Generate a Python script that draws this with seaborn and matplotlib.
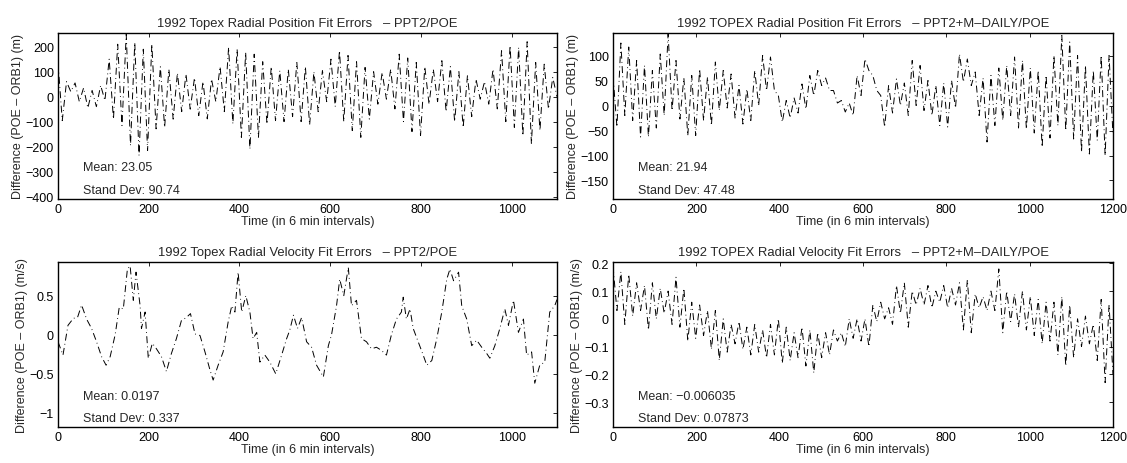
import numpy as np
import pandas as pd
import seaborn as sns
import matplotlib

matplotlib.use("Agg")
import matplotlib.pyplot as plt
from matplotlib.ticker import FuncFormatter

# ---- values (orbit-by-orbit highs and lows) ----
# radial position, PPT2/POE (m)
pos_ppt2_hi = [137, 60, 55, 35, 25, 45, 150, 210, 250, 217,
               190, 210, 120, 110, 95, 90, 75, 60, 70, 120,
               197, 190, 177, 170, 140, 120, 104, 110, 137, 120,
               100, 104, 150, 184, 165, 140, 117, 100, 97, 110,
               170, 155, 137, 120, 110, 144, 120, 100, 84, 70,
               60, 110, 184, 204, 197, 220, 137, 130, 77]
pos_ppt2_lo = [-96, 20, -20, -45, -40, -15, -90, -116, -196, -236,
               -216, -129, -123, -90, -60, -50, -76, -89, -20, -60,
               -109, -163, -210, -163, -110, -96, -100, -80, -100, -113,
               -60, -20, -40, -100, -136, -163, -90, -30, -10, -49,
               -100, -140, -156, -30, -20, -60, -100, -123, -80, -10,
               -30, -49, -100, -123, -156, -189, -136, -49, 0]

# radial position, PPT2+M-DAILY/POE (m)
pos_daily_hi = [60, 125, 117, 90, 80, 70, 103, 143, 90, 55,
                60, 73, 57, 87, 70, 63, 40, 33, 70, 100,
                97, 20, 10, 15, 43, 60, 70, 55, 30, 10,
                5, 60, 93, 60, 20, 40, 53, 45, 90, 80,
                50, 40, 45, 50, 103, 93, 67, 55, 60, 75,
                80, 97, 90, 75, 70, 60, 100, 140, 127, 100,
                80, 70, 100, 100]
pos_daily_lo = [-43, -20, -30, -63, -63, -45, -20, -10, -27, -60,
                -60, -30, -40, -10, -5, -25, -37, -30, 0, 30,
                30, -33, -25, -15, -7, 20, 40, 30, 5, -13,
                -20, 20, 70, 30, -43, -15, 0, -20, 0, -10,
                -20, -40, -43, -5, 47, 40, -20, -73, -40, -30,
                -20, -45, -47, -55, -83, -65, -40, -50, -67, -93,
                -97, -70, -100, -60]

# radial velocity, PPT2/POE (m/s)
vel_ppt2_t = [0, 11, 22, 34, 43, 52, 63, 74, 85, 96,
              106, 115, 126, 135, 144, 153, 159, 166, 172, 181,
              184, 192, 199, 208, 217, 228, 239, 250, 261, 272,
              283, 292, 302, 313, 324, 335, 342, 353, 364, 375,
              383, 390, 397, 405, 414, 423, 430, 438, 445, 456,
              467, 480, 493, 504, 511, 519, 528, 537, 548, 559,
              570, 585, 596, 603, 614, 621, 630, 640, 647, 658,
              669, 680, 691, 702, 713, 724, 735, 746, 757, 761,
              768, 776, 783, 794, 805, 813, 824, 835, 846, 857,
              864, 872, 883, 890, 901, 912, 923, 934, 945, 952,
              963, 974, 985, 993, 1004, 1015, 1026, 1033, 1044, 1051,
              1062, 1073, 1084, 1095, 1100]
vel_ppt2 = [-0.09, -0.26, 0.12, 0.21, 0.22, 0.38, 0.2, 0.08, -0.09, -0.28,
            -0.39, -0.28, 0.0, 0.35, 0.33, 0.84, 0.88, 0.44, 0.8, 0.37,
            0.08, 0.29, -0.3, -0.11, -0.18, -0.28, -0.47, -0.24, -0.05, 0.18,
            0.22, 0.27, 0.01, -0.01, -0.22, -0.45, -0.58, -0.39, -0.22, 0.16,
            0.37, 0.29, 0.8, 0.29, 0.5, 0.29, -0.05, 0.03, -0.35, -0.26,
            -0.35, -0.5, -0.26, -0.05, 0.06, 0.25, 0.08, 0.22, -0.09, -0.16,
            -0.39, -0.54, -0.14, 0.0, 0.37, 0.71, 0.5, 0.86, 0.37, 0.44,
            -0.05, -0.09, -0.18, -0.16, -0.2, -0.26, 0.0, 0.2, 0.29, 0.48,
            0.2, 0.33, 0.08, -0.09, -0.26, -0.39, -0.33, -0.05, 0.29, 0.71,
            0.84, 0.69, 0.8, 0.37, 0.2, -0.14, -0.07, -0.16, -0.24, -0.3,
            -0.14, 0.08, 0.33, 0.12, 0.44, 0.03, 0.2, -0.26, -0.22, -0.62,
            -0.39, -0.35, 0.29, 0.37, 0.45]

# radial velocity, PPT2+M-DAILY/POE (m/s)
vel_daily_hi = [0.19, 0.17, 0.16, 0.13, 0.12, 0.13, 0.11, 0.10, 0.15, 0.11,
                0.06, 0.05, 0.03, 0.03, 0.0, -0.02, -0.01, -0.03, -0.02, -0.04,
                -0.02, 0.0, -0.03, -0.05, -0.03, -0.04, -0.05, -0.05, -0.04, -0.05,
                0.0, 0.0, 0.0, 0.05, 0.06, 0.04, 0.12, 0.13, 0.10, 0.11,
                0.12, 0.10, 0.12, 0.11, 0.13, 0.14, 0.09, 0.08, 0.10, 0.18,
                0.10, 0.09, 0.10, 0.08, 0.07, 0.06, 0.06, 0.08, 0.05, 0.0,
                0.01, -0.02, 0.07, 0.05]
vel_daily_lo = [0.03, -0.02, 0.01, 0.03, -0.04, 0.0, 0.02, -0.02, -0.03, -0.08,
                -0.07, -0.06, -0.11, -0.15, -0.12, -0.09, -0.11, -0.13, -0.12, -0.14,
                -0.13, -0.16, -0.15, -0.14, -0.17, -0.195, -0.14, -0.13, -0.08, -0.10,
                -0.07, -0.08, -0.10, -0.01, 0.0, -0.02, 0.02, -0.03, 0.05, 0.05,
                0.04, 0.06, 0.04, 0.05, -0.04, -0.05, 0.04, 0.03, 0.03, -0.05,
                -0.01, -0.03, -0.04, -0.06, -0.09, -0.08, -0.13, -0.17, -0.14, -0.10,
                -0.09, -0.15, -0.23, -0.20]

titles = ["1992 Topex Radial Position Fit Errors   \u2013 PPT2/POE",
          "1992 TOPEX Radial Position Fit Errors   \u2013 PPT2+M\u2013DAILY/POE",
          "1992 Topex Radial Velocity Fit Errors   \u2013 PPT2/POE",
          "1992 TOPEX Radial Velocity Fit Errors   \u2013 PPT2+M\u2013DAILY/POE"]
ylabels = ["Difference (POE \u2013 ORB1) (m)", "Difference (POE \u2013 ORB1) (m)",
           "Difference (POE \u2013 ORB1) (m/s)", "Difference (POE \u2013 ORB1) (m/s)"]
means = ["23.05", "21.94", "0.0197", "\u22120.006035"]
stds = ["90.74", "47.48", "0.337", "0.07873"]


def zigzag(hi, lo):
    out = []
    for a, b in zip(hi, lo):
        out += [a, b]
    return out


def series(vals, tmax):
    return pd.DataFrame({"t": np.linspace(0, tmax, len(vals)), "v": vals})


frames = [
    series(zigzag(pos_ppt2_hi, pos_ppt2_lo), 1100),
    series(zigzag(pos_daily_hi, pos_daily_lo), 1200),
    pd.DataFrame({"t": vel_ppt2_t, "v": vel_ppt2}),
    series(zigzag(vel_daily_hi, vel_daily_lo), 1200),
]
xlims = [(0, 1100), (0, 1200), (0, 1100), (0, 1200)]
ylims = [(-410, 255), (-187, 145), (-1.18, 0.93), (-0.39, 0.205)]
yticks = [np.arange(-400, 201, 100), np.arange(-150, 101, 50),
          [-1, -0.5, 0, 0.5], [-0.3, -0.2, -0.1, 0, 0.1, 0.2]]
xticks = [np.arange(0, 1001, 200), np.arange(0, 1201, 200),
          np.arange(0, 1001, 200), np.arange(0, 1201, 200)]

sns.set_style("white")
plt.rcParams["font.family"] = ["Liberation Sans", "DejaVu Sans"]
plt.rcParams["lines.scale_dashes"] = False

fig = plt.figure(figsize=(11.27, 4.64), dpi=100)
W, H = 1127, 464
boxes = [(58, 34, 499, 166), (613, 34, 500, 166),
         (58, 263, 499, 165), (613, 263, 500, 165)]

fmt = FuncFormatter(lambda v, p: ("%g" % v).replace("-", "\u2212"))
fs = 9

for i, (l, t, w, h) in enumerate(boxes):
    ax = fig.add_axes([l / W, 1 - (t + h) / H, w / W, h / H])
    sns.lineplot(data=frames[i], x="t", y="v", ax=ax, color="black",
                 linewidth=0.7, linestyle=(0, (5, 2.4, 0.6, 2.4)),
                 sort=False, estimator=None)
    ax.set_xlim(*xlims[i])
    ax.set_ylim(*ylims[i])
    ax.set_xticks(xticks[i])
    ax.set_yticks(yticks[i])
    ax.yaxis.set_major_formatter(fmt)
    ax.xaxis.set_major_formatter(fmt)
    ax.tick_params(direction="in", top=True, right=True, length=3,
                   width=0.6, labelsize=fs, pad=3, colors="black")
    for s in ax.spines.values():
        s.set_linewidth(1.0)
        s.set_color("black")
    ax.set_title(titles[i], fontsize=9.4, pad=5)
    ax.set_xlabel("Time (in 6 min intervals)", fontsize=fs, labelpad=0)
    ax.set_ylabel(ylabels[i], fontsize=fs, labelpad=1)
    ax.text(0.05, 0.19, "Mean: " + means[i], transform=ax.transAxes,
            fontsize=fs, va="center")
    ax.text(0.05, 0.055, "Stand Dev: " + stds[i], transform=ax.transAxes,
            fontsize=fs, va="center")

fig.savefig("out.png", dpi=100)
